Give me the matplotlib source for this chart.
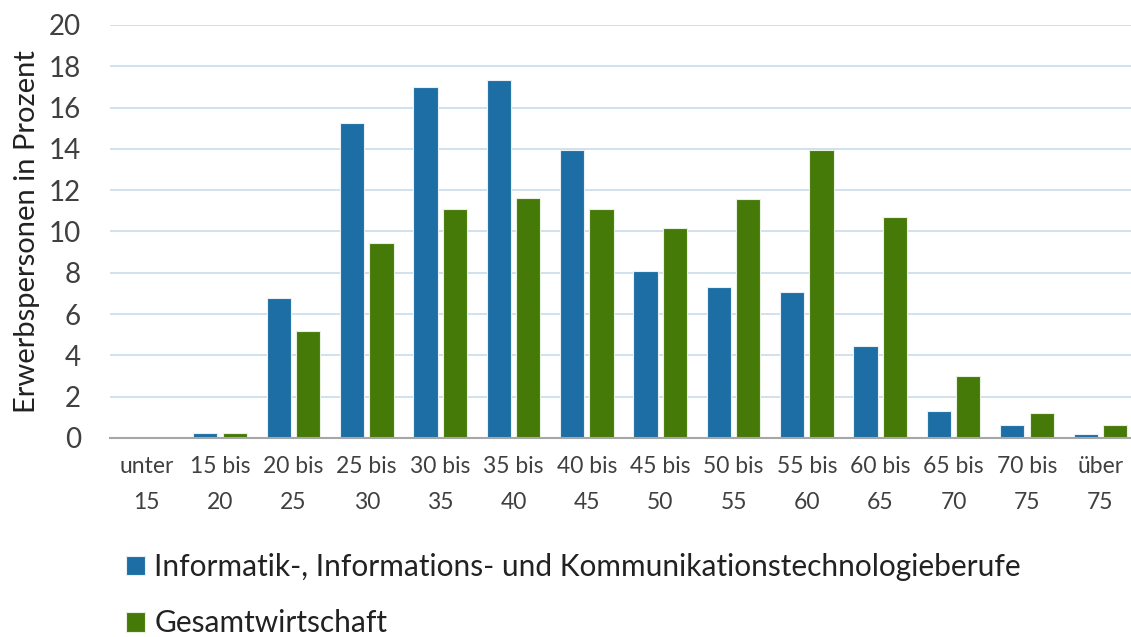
import numpy as np
import matplotlib
matplotlib.use("Agg")
from matplotlib import pyplot as plt

categories = ["unter\n15", "15 bis\n20", "20 bis\n25", "25 bis\n30", "30 bis\n35", "35 bis\n40",
              "40 bis\n45", "45 bis\n50", "50 bis\n55", "55 bis\n60", "60 bis\n65", "65 bis\n70",
              "70 bis\n75", "über\n75"]
ikt = [0.0, 0.25, 6.8, 15.25, 17.0, 17.35, 13.95, 8.1, 7.3, 7.05, 4.45, 1.3, 0.65, 0.2]
gesamt = [0.0, 0.25, 5.2, 9.45, 11.1, 11.6, 11.1, 10.15, 11.55, 13.95, 10.7, 3.0, 1.2, 0.65]
yticks = np.arange(0, 21, 2)

blue = "#1d6ea4"
green = "#467a08"
text_col = "#404040"

plt.rcParams["font.family"] = ["Lato", "DejaVu Sans"]

fig = plt.figure(figsize=(11.31, 6.37), dpi=100)
ax = fig.add_axes([110 / 1131, 1 - 438 / 637, 1027 / 1131, 413 / 637])

x = np.arange(len(categories))
w = 0.33
ax.bar(x - 0.2, ikt, w, color=blue, edgecolor="#e8f0f6", linewidth=0.8, zorder=3,
       label="Informatik-, Informations- und Kommunikationstechnologieberufe")
ax.bar(x + 0.2, gesamt, w, color=green, edgecolor="#e8f0e0", linewidth=0.8, zorder=3,
       label="Gesamtwirtschaft")

ax.set_xlim(-0.5, len(categories) - 0.5)
ax.set_ylim(0, 20)
ax.set_yticks(yticks)
ax.set_xticks(x)
ax.set_xticklabels(categories, fontsize=16.5, color=text_col, linespacing=1.85)
ax.tick_params(axis="y", labelsize=20, colors=text_col, length=0, pad=21)
ax.tick_params(axis="x", length=0, pad=13)
ax.yaxis.grid(True, color="#c8dceb", linewidth=1.2, zorder=0)
for s in ["top", "right", "left"]:
    ax.spines[s].set_visible(False)
ax.spines["bottom"].set_color("#a6a6a6")
ax.spines["bottom"].set_linewidth(1.5)
ax.spines["bottom"].set_zorder(4)

ax.set_ylabel("Erwerbspersonen in Prozent", fontsize=21, color="#222222", labelpad=6)

fig.legend(loc="upper left", bbox_to_anchor=(126 / 1131, 1 - 553 / 637), frameon=False,
           fontsize=21.5, handlelength=0.65, handleheight=0.65, handletextpad=0.3,
           labelspacing=0.95, labelcolor="#222222", borderpad=0, borderaxespad=0)

fig.savefig("out.png", dpi=100)
